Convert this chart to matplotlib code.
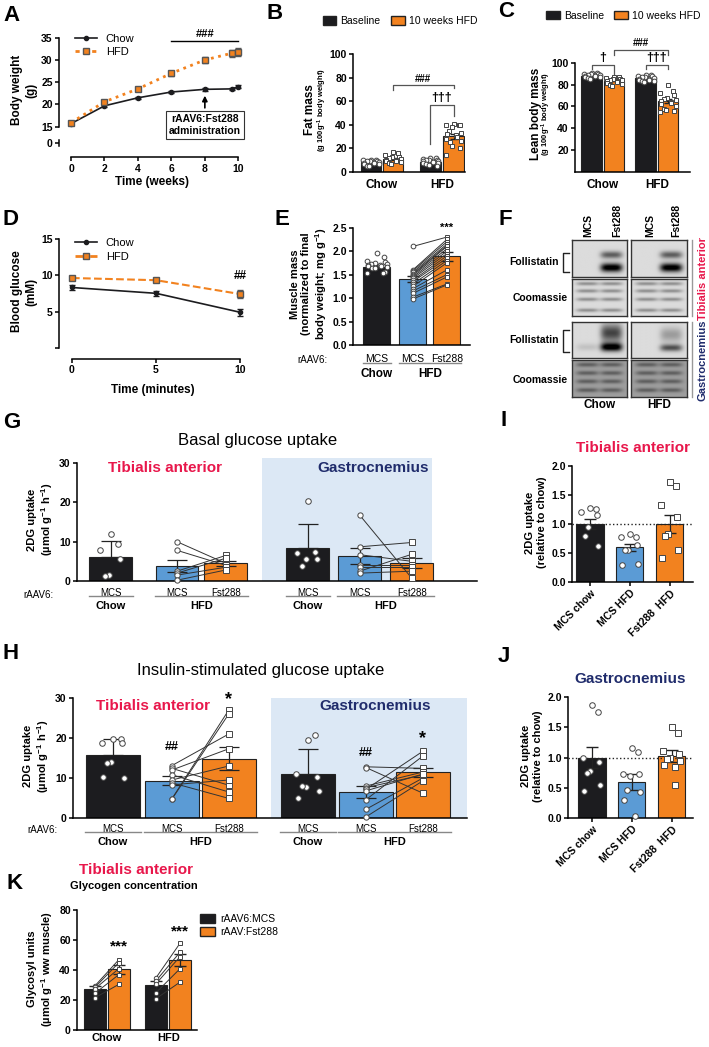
import numpy as np
import matplotlib.pyplot as plt
from matplotlib.lines import Line2D
from matplotlib.patches import Patch

plt.rcParams['font.family'] = ['Liberation Sans', 'DejaVu Sans']
plt.rcParams['font.weight'] = 'bold'
plt.rcParams['axes.labelweight'] = 'bold'
plt.rcParams['axes.titleweight'] = 'bold'
plt.rcParams['mathtext.default'] = 'regular'
plt.rcParams['axes.linewidth'] = 1.1
plt.rcParams['xtick.major.width'] = 1.1
plt.rcParams['ytick.major.width'] = 1.1
plt.rcParams['xtick.labelsize'] = 7.5
plt.rcParams['ytick.labelsize'] = 7.5

BLACK = '#1c1c1f'
ORANGE = '#f2821f'
BLUE = '#5b9bd5'
PALE = '#dce8f5'
RED = '#e8174b'
NAVY = '#202c6c'
GREY = '#444444'

# ---------------- data ----------------
# A: body weight over 10 weeks
weeks = [0, 2, 4, 6, 8, 9.6, 10]
bw_chow = [15.7, 19.7, 21.5, 22.8, 23.4, 23.5, 24.0]
bw_chow_err = [0.4, 0.3, 0.2, 0.2, 0.3, 0.2, 0.3]
bw_hfd = [15.9, 20.6, 23.5, 27.0, 30.0, 31.5, 31.8]
bw_hfd_err = [0.4, 0.5, 0.4, 0.6, 0.7, 0.8, 0.9]

# B / C: order = chow baseline, chow 10wk, HFD baseline, HFD 10wk
bc_groups = ['Chow', 'HFD']
fat_mean = [8.2, 10.8, 8.8, 30.2]
fat_sem = [0.5, 0.9, 0.5, 2.0]
fat_pts = [
    [10.5, 10, 10, 9.5, 9.5, 9, 8.5, 8, 8, 7.5, 7, 6.5, 5.5, 5],
    [17, 16, 14, 13, 12.5, 12, 11, 10.5, 10, 9.5, 9, 8.5, 8, 7],
    [12, 11.5, 11, 10.5, 10, 10, 9.5, 9, 8.5, 8.5, 8, 7.5, 7, 6, 5.5],
    [41, 40, 40, 40, 38, 35, 33, 32, 31, 30, 28, 26, 25, 22, 20, 14],
]
lean_mean = [87.5, 83.5, 86.0, 65.0]
lean_sem = [0.5, 0.7, 0.5, 1.6]
lean_pts = [
    [91, 90.5, 90, 90, 89.5, 89, 88.5, 88, 88, 87.5, 87, 86.5, 86, 85.5],
    [87, 86.5, 86, 85.5, 85, 84.5, 84, 83.5, 83, 82.5, 81.5, 80.5, 79.5, 78.5],
    [89, 88.5, 88, 87.5, 87, 86.5, 86, 85.5, 85, 84.5, 84, 83.5, 83, 82.5],
    [80, 74, 72, 70, 68, 67, 66, 65, 64, 63, 62, 60, 58, 57, 56, 55],
]

# D: blood glucose
minutes = [0, 5, 10]
bg_chow = [8.3, 7.5, 4.9]
bg_chow_err = [0.4, 0.3, 0.5]
bg_hfd = [9.6, 9.3, 7.4]
bg_hfd_err = [0.2, 0.2, 0.5]

# E: muscle mass
vec_labels = ['MCS', 'MCS', 'Fst288']
e_mean = [1.67, 1.41, 1.89]
e_sem = [0.03, 0.07, 0.09]
e_chow = [1.97, 1.88, 1.78, 1.76, 1.74, 1.73, 1.72, 1.71, 1.70, 1.69, 1.68, 1.66, 1.65, 1.64, 1.55, 1.53, 1.53]
e_mcs = [2.10, 1.60, 1.58, 1.55, 1.52, 1.50, 1.48, 1.45, 1.42, 1.38, 1.35, 1.30, 1.25, 1.20, 1.15, 1.10, 1.02, 0.98]
e_fst = [2.30, 2.25, 2.20, 2.15, 2.12, 2.10, 2.05, 2.00, 1.95, 1.90, 1.85, 1.80, 1.75, 1.60, 1.50, 1.45, 1.30, 1.28]

# G: basal 2DG uptake (TA chow, TA MCS, TA Fst, Gas chow, Gas MCS, Gas Fst)
g_mean = [6.0, 3.8, 4.5, 8.3, 6.4, 4.6]
g_err = [4.2, 1.5, 0.6, 6.1, 2.0, 1.2]
g_pts = [
    [12.0, 9.5, 8.0, 5.5, 1.6, 1.2],
    [10.0, 7.8, 2.5, 2.0, 1.5, 0.2],
    [4.5, 4.0, 6.5, 5.8, 3.5, 2.8],
    [20.3, 7.3, 7.0, 5.5, 5.5, 3.8],
    [16.8, 8.7, 6.7, 4.0, 3.5, 2.5, 2.0],
    [0.7, 9.8, 5.0, 4.0, 3.5, 6.8, 2.5],
]

# H: insulin-stimulated 2DG uptake
h_mean = [15.7, 9.3, 14.8, 11.1, 6.6, 11.4]
h_err = [4.1, 1.1, 2.9, 6.1, 1.5, 1.2]
h_pts = [
    [19.8, 19.8, 18.8, 18.8, 14.0, 13.8, 10.0, 10.2],
    [13.1, 12.4, 12.0, 10.8, 9.5, 8.8, 8.3, 4.8, 4.7],
    [21.0, 8.2, 17.3, 6.5, 13.0, 4.9, 9.5, 27.0, 26.0],
    [19.6, 20.8, 10.9, 10.2, 7.8, 7.9, 6.7, 5.0],
    [12.8, 12.6, 8.0, 7.6, 7.2, 4.6, 2.2, 0.3, 6.8],
    [12.4, 6.2, 11.5, 10.8, 16.7, 15.5, 10.0, 9.3, 11.0],
]

# I / J: uptake relative to chow
rel_labels = ['MCS chow', 'MCS HFD', 'Fst288  HFD']
i_mean = [1.0, 0.60, 1.0]
i_sem = [0.09, 0.06, 0.16]
i_pts = [
    [1.27, 1.26, 1.20, 1.15, 0.95, 0.80, 0.62],
    [0.83, 0.78, 0.77, 0.63, 0.55, 0.55, 0.31, 0.30],
    [1.73, 1.65, 1.33, 1.12, 0.83, 0.80, 0.55, 0.42],
]
j_mean = [1.0, 0.60, 1.02]
j_sem = [0.18, 0.13, 0.10]
j_pts = [
    [1.86, 1.75, 0.99, 0.92, 0.78, 0.75, 0.55, 0.45],
    [1.16, 1.09, 0.72, 0.72, 0.70, 0.47, 0.43, 0.30, 0.03],
    [1.50, 1.40, 1.10, 1.05, 1.00, 0.97, 0.95, 0.88, 0.85, 0.55],
]

# K: glycogen (chow MCS, chow Fst, HFD MCS, HFD Fst)
k_mean = [27.5, 40.5, 30.0, 47.0]
k_sem = [1.8, 3.0, 2.5, 4.0]
k_pts = [
    [29.5, 28.5, 27.5, 24.5, 21.5],
    [47, 45, 41, 37, 30.5],
    [35, 33, 31, 25, 21],
    [58, 52, 49, 41, 32],
]

# ---------------- helpers ----------------
W, H = 709, 1047
fig = plt.figure(figsize=(W / 100, H / 100), dpi=100)


def add_ax(x0, y0, x1, y1):
    return fig.add_axes([x0 / W, 1 - y1 / H, (x1 - x0) / W, (y1 - y0) / H])


def ftext(x, y, s, **kw):
    fig.text(x / W, 1 - y / H, s, **kw)


def clean(ax):
    ax.spines['top'].set_visible(False)
    ax.spines['right'].set_visible(False)
    ax.tick_params(length=3, pad=1.5)


def spread(n, w):
    return w * np.sin(np.arange(n) * 2.4)


def dots(ax, x, vals, marker='o', w=0.3, ms=3.6):
    xs = x + spread(len(vals), w)
    ax.plot(xs, vals, ls='none', marker=marker, ms=ms, mfc='white', mec=GREY,
            mew=0.7, zorder=4, clip_on=False)


def paired(ax, x1, v1, x2, v2, ms=3.4):
    for a, b in zip(v1, v2):
        ax.plot([x1, x2], [a, b], color='#333', lw=0.7, zorder=3)
    ax.plot([x1] * len(v1), v1, 'o', ms=ms, mfc='white', mec=GREY, mew=0.7, zorder=4, clip_on=False)
    ax.plot([x2] * len(v2), v2, 's', ms=ms, mfc='white', mec=GREY, mew=0.7, zorder=4, clip_on=False)


def bracket(ax, x1, x2, y, y1, y2, label, fs=8):
    ax.plot([x1, x1, x2, x2], [y1, y, y, y2], color='#555', lw=0.9, clip_on=False)
    ax.text((x1 + x2) / 2, y + 1, label, ha='center', va='bottom', fontsize=fs)


def under(ax, pos, width, y_lab, y_line, y_grp, fs=7):
    tr = ax.get_xaxis_transform()
    for i, p in enumerate(pos):
        ax.text(p, y_lab, vec_labels[i % 3], transform=tr, ha='center', va='top',
                fontsize=fs, fontweight='normal')
    for s in range(0, len(pos), 3):
        spans = [(pos[s], pos[s], 'Chow'), (pos[s + 1], pos[s + 2], 'HFD')]
        for a, b, name in spans:
            ax.plot([a - 0.52 * width, b + 0.52 * width], [y_line, y_line], transform=tr,
                    color='#888', lw=1, clip_on=False)
            ax.text((a + b) / 2, y_grp, name, transform=tr, ha='center', va='top', fontsize=fs + 1)


def letter(x, y, s):
    ftext(x, y, s, fontsize=16, fontweight='bold', ha='left', va='top')


def line_legend(ax):
    handles = [Line2D([], [], color=BLACK, marker='o', ms=3, lw=1.2),
               Line2D([], [], color=ORANGE, ls=(0, (1.5, 1.5)), lw=2, marker='s', ms=4, mfc=ORANGE, mec='#555')]
    ax.legend(handles, ['Chow', 'HFD'], loc='upper left', bbox_to_anchor=(0.03, 1.06), frameon=False,
              handlelength=2, prop={'weight': 'normal', 'size': 8}, labelspacing=0.3)


# ---------------- A ----------------
axA = add_ax(59, 31, 245, 149)
axA.errorbar(weeks, bw_chow, yerr=bw_chow_err, color=BLACK, marker='o', ms=3, lw=1.2, capsize=2)
axA.errorbar(weeks, bw_hfd, yerr=bw_hfd_err, color=ORANGE, ls=':', lw=2, marker='s', ms=4,
             mfc=ORANGE, mec='#555', ecolor='#555', capsize=2)
axA.set_xlim(-0.72, 10.4)
axA.set_ylim(10, 36.5)
axA.set_xticks([0, 2, 4, 6, 8, 10])
axA.set_yticks([11.3, 15, 20, 25, 30, 35], ['0', '15', '20', '25', '30', '35'])
clean(axA)
axA.spines['left'].set_bounds(15, 35)
axA.spines['bottom'].set_bounds(0, 10)
axA.spines['bottom'].set_position(('outward', 6))
axA.plot([0, 0], [10.6, 12.0], transform=axA.get_yaxis_transform(), color='k', lw=1.1, clip_on=False)
axA.plot([6, 10], [34.3, 34.3], color='k', lw=1)
axA.text(8, 34.6, '###', ha='center', va='bottom', fontsize=8)
axA.annotate('rAAV6:Fst288\nadministration', xy=(8, 22.6), xytext=(8, 15.4), ha='center', va='center',
             fontsize=7.5, bbox=dict(boxstyle='square,pad=0.3', fc='white', ec='#333', lw=0.8),
             arrowprops=dict(arrowstyle='-|>', color='k', lw=1.2))
axA.set_ylabel('Body weight\n(g)', fontsize=8.5, labelpad=3)
axA.set_xlabel('Time (weeks)', fontsize=8.5, labelpad=2)
line_legend(axA)
letter(3, 5, 'A')


# ---------------- B / C ----------------
def body_comp(ax, pos, means, sem, pts, ylim, xlim):
    cols = [BLACK, ORANGE, BLACK, ORANGE]
    ax.bar(pos, means, 0.95, color=cols, edgecolor='#222', lw=0.8, zorder=1)
    ax.errorbar(pos, means, yerr=sem, fmt='none', ecolor='#222', elinewidth=0.9, capsize=3, zorder=2)
    for i, p in enumerate(pos):
        dots(ax, p, pts[i], marker='o' if i % 2 == 0 else 's', w=0.36, ms=3.4)
    ax.set_xlim(xlim)
    ax.set_ylim(ylim)
    ax.set_xticks([(pos[0] + pos[1]) / 2, (pos[2] + pos[3]) / 2], bc_groups, fontsize=8.5)
    clean(ax)
    ax.tick_params(axis='x', length=0, pad=5)
    ax.spines['left'].set_bounds(0, 100)
    ax.legend([Patch(fc=BLACK, ec='#222'), Patch(fc=ORANGE, ec='#222')], ['Baseline', '10 weeks HFD'],
              loc='lower center', bbox_to_anchor=(0.42, 1.1), ncol=2, frameon=False,
              handlelength=1.3, handleheight=0.9, columnspacing=1.0, handletextpad=0.4,
              prop={'weight': 'normal', 'size': 7.5})


axB = add_ax(353, 48, 465, 172)
posB = [0, 1, 2.7, 3.75]
body_comp(axB, posB, fat_mean, fat_sem, fat_pts, (0, 105), (-0.82, 4.27))
axB.set_yticks([0, 20, 40, 60, 80, 100])
bracket(axB, posB[1], posB[3], 73.5, 69.5, 71, '###', fs=7)
bracket(axB, posB[2], posB[3], 57, 24, 47, '†††', fs=9)
axB.text(-0.38, 0.5, 'Fat mass', rotation=90, transform=axB.transAxes, ha='center', va='center', fontsize=8.5)
axB.text(-0.27, 0.5, '(g 100g$^{-1}$ body weight)', rotation=90, transform=axB.transAxes,
         ha='center', va='center', fontsize=5.5)
letter(266, 3, 'B')

axC = add_ax(575, 43, 690, 172)
posC = [0, 1, 2.45, 3.45]
body_comp(axC, posC, lean_mean, lean_sem, lean_pts, (0, 118), (-0.77, 4.45))
axC.set_yticks([20, 40, 60, 80, 100])
bracket(axC, posC[0], posC[1], 98, 94, 90, '†', fs=9)
bracket(axC, posC[1], posC[3], 112, 107, 107, '###', fs=7)
bracket(axC, posC[2], posC[3], 98, 94, 94, '†††', fs=9)
axC.text(-0.34, 0.45, 'Lean body mass', rotation=90, transform=axC.transAxes, ha='center', va='center', fontsize=8.5)
axC.text(-0.245, 0.45, '(g 100g$^{-1}$ body weight)', rotation=90, transform=axC.transAxes,
         ha='center', va='center', fontsize=5.5)
letter(498, 1, 'C')

# ---------------- D ----------------
axD = add_ax(59, 235, 246, 348)
axD.errorbar(minutes, bg_chow, yerr=bg_chow_err, color=BLACK, marker='o', ms=3, lw=1.2, capsize=2)
axD.errorbar(minutes, bg_hfd, yerr=bg_hfd_err, color=ORANGE, ls='--', lw=1.5, marker='s', ms=4,
             mfc=ORANGE, mec='#555', ecolor='#555', capsize=2)
axD.set_xlim(-0.77, 10.35)
axD.set_ylim(0, 15.5)
axD.set_xticks([0, 5, 10])
axD.set_yticks([0, 5, 10, 15], ['', '5', '10', '15'])
clean(axD)
axD.spines['left'].set_bounds(0, 15)
axD.spines['bottom'].set_bounds(0, 10)
axD.spines['bottom'].set_position(('outward', 8))
axD.text(10, 9.0, '##', ha='center', va='bottom', fontsize=8.5)
axD.set_ylabel('Blood glucose\n(mM)', fontsize=8.5, labelpad=3)
axD.set_xlabel('Time (minutes)', fontsize=8.5, labelpad=6)
line_legend(axD)
axD.get_legend().get_lines()[1].set_linestyle('--')
letter(3, 209, 'D')

# ---------------- E ----------------
axE = add_ax(353, 223, 470, 345)
posE = [0, 1.06, 2.06]
axE.bar(posE, e_mean, 0.8, color=[BLACK, BLUE, ORANGE], edgecolor='#222', lw=0.8, zorder=1)
axE.errorbar(posE, e_mean, yerr=e_sem, fmt='none', ecolor='#222', elinewidth=0.9, capsize=4, zorder=2)
dots(axE, posE[0], e_chow, w=0.3, ms=3.4)
paired(axE, posE[1], e_mcs, posE[2], e_fst)
axE.text(posE[2], 2.38, '***', ha='center', va='bottom', fontsize=8)
axE.set_xlim(-0.7, 2.74)
axE.set_ylim(0, 2.6)
axE.set_yticks([0, 0.5, 1.0, 1.5, 2.0, 2.5], ['0.0', '0.5', '1.0', '1.5', '2.0', '2.5'])
axE.set_xticks([])
clean(axE)
axE.spines['left'].set_bounds(0, 2.5)
axE.set_ylabel('Muscle mass\n(normalized to final\nbody weight; mg g$^{-1}$)', fontsize=8, labelpad=2)
axE.text(-0.22, -0.08, 'rAAV6:', transform=axE.transAxes, ha='right', va='top', fontsize=7, fontweight='normal')
under(axE, posE, 0.8, -0.075, -0.15, -0.185, fs=7.5)
letter(274, 209, 'E')


# ---------------- F (western blots) ----------------
def blot(box, bands, bg):
    ax = add_ax(*box)
    yy = np.linspace(0, 1, 60)[:, None]
    xx = np.linspace(0, 1, 100)[None, :]
    img = np.full((60, 100), bg)
    for lane, yc, h, s in bands:
        img = img - s * np.exp(-((yy - yc) / h) ** 2) * np.exp(-((xx - lane) / 0.2) ** 4)
    ax.imshow(np.clip(img, 0, 1), cmap='gray', vmin=0, vmax=1, aspect='auto')
    ax.set_xticks([])
    ax.set_yticks([])
    for s in ax.spines.values():
        s.set_color('#333')
        s.set_linewidth(1)


coom = [(ln, yc, 0.05, 0.3) for ln in (0.28, 0.72) for yc in (0.12, 0.32, 0.55, 0.85)]
blot((572, 240, 627, 277), [(0.72, 0.4, 0.1, 0.5), (0.72, 0.75, 0.12, 0.95)], 0.86)
blot((631, 240, 687, 277), [(0.72, 0.4, 0.1, 0.5), (0.72, 0.75, 0.12, 0.95)], 0.86)
blot((572, 279, 627, 316), coom, 0.86)
blot((631, 279, 687, 316), coom, 0.86)
blot((572, 322, 627, 358), [(0.72, 0.3, 0.25, 0.6), (0.72, 0.7, 0.12, 0.95), (0.28, 0.7, 0.1, 0.1)], 0.86)
blot((631, 322, 687, 358), [(0.72, 0.35, 0.2, 0.25), (0.72, 0.72, 0.1, 0.55)], 0.86)
coom_g = [(ln, yc, 0.06, 0.25) for ln in (0.28, 0.72) for yc in (0.12, 0.35, 0.58, 0.82)]
blot((572, 360, 627, 397), coom_g, 0.62)
blot((631, 360, 687, 397), coom_g, 0.62)

for x, s in [(588, 'MCS'), (617, 'Fst288'), (650, 'MCS'), (676, 'Fst288')]:
    ftext(x, 237, s, rotation=90, ha='center', va='bottom', fontsize=7.5)
for y, s in [(262, 'Follistatin'), (298, 'Coomassie'), (340, 'Follistatin'), (380, 'Coomassie')]:
    ftext(559 if s == 'Follistatin' else 568, y, s, ha='right', va='center', fontsize=7.5)
for y0, y1 in [(253, 272), (330, 352)]:
    fig.add_artist(Line2D([569 / W, 563 / W, 563 / W, 569 / W], [1 - y0 / H, 1 - y0 / H, 1 - y1 / H, 1 - y1 / H],
                          color='#222', lw=1))
fig.add_artist(Line2D([692 / W, 692 / W], [1 - 240 / H, 1 - 316 / H], color='#999', lw=1))
fig.add_artist(Line2D([692 / W, 692 / W], [1 - 322 / H, 1 - 397 / H], color='#999', lw=1))
ftext(703, 278, 'Tibialis anterior', rotation=90, ha='center', va='center', fontsize=8, color=RED)
ftext(703, 360, 'Gastrocnemius', rotation=90, ha='center', va='center', fontsize=8, color=NAVY)
ftext(600, 405, 'Chow', ha='center', va='center', fontsize=8.5)
ftext(659, 405, 'HFD', ha='center', va='center', fontsize=8.5)
letter(498, 209, 'F')


# ---------------- G / H ----------------
def uptake_panel(ax, pos, width, means, err, pts, xlim, bg_from, ymax, bg_top):
    ax.axvspan(bg_from, xlim[1], ymax=bg_top / ymax, color=PALE, zorder=0, lw=0)
    ax.bar(pos, means, width, color=[BLACK, BLUE, ORANGE] * 2, edgecolor='#222', lw=0.8, zorder=1)
    dn = [0 if i % 3 == 0 else e for i, e in enumerate(err)]
    ax.errorbar(pos, means, yerr=[dn, err], fmt='none', ecolor='#222', elinewidth=0.9,
                capsize=7, capthick=0.9, zorder=2)
    for k in (0, 3):
        dots(ax, pos[k], pts[k], w=0.22, ms=4)
        paired(ax, pos[k + 1], pts[k + 1], pos[k + 2], pts[k + 2], ms=3.8)
    ax.set_xlim(xlim)
    ax.set_ylim(0, ymax)
    ax.set_yticks([0, 10, 20, 30])
    ax.set_xticks([])
    clean(ax)
    ax.spines['left'].set_bounds(0, 30)
    ax.set_ylabel('2DG uptake\n(µmol g$^{-1}$ h$^{-1}$)', fontsize=8, labelpad=3)


axG = add_ax(77, 458, 477, 581)
posG = [0, 1.33, 2.31, 3.96, 5.0, 6.05]
uptake_panel(axG, posG, 0.86, g_mean, g_err, g_pts, (-0.68, 7.36), 3.04, 31.3, 31.3)
axG.axvspan(6.45, 7.36, color='white', zorder=0, lw=0)
axG.text(-0.06, -0.075, 'rAAV6:', transform=axG.transAxes, ha='right', va='top', fontsize=7, fontweight='normal')
under(axG, posG, 0.86, -0.06, -0.125, -0.16)
ftext(258, 440, 'Basal glucose uptake', ha='center', va='center', fontsize=12, fontweight='normal')
ftext(165, 468, 'Tibialis anterior', ha='center', va='center', fontsize=11, color=RED)
ftext(373, 468, 'Gastrocnemius', ha='center', va='center', fontsize=11, color=NAVY)
letter(3, 412, 'G')

axH = add_ax(73, 694, 467, 818)
posH = [0, 1.15, 2.26, 3.8, 4.94, 6.05]
uptake_panel(axH, posH, 1.05, h_mean, h_err, h_pts, (-0.78, 6.91), 3.09, 31, 30)
axH.text(posH[1], 17.7, '##', ha='center', va='center', fontsize=9)
axH.text(posH[2], 29.5, '*', ha='center', va='center', fontsize=13)
axH.text(posH[4], 16.2, '##', ha='center', va='center', fontsize=9)
axH.text(posH[5], 19.8, '*', ha='center', va='center', fontsize=13)
axH.text(-0.04, -0.06, 'rAAV6:', transform=axH.transAxes, ha='right', va='top', fontsize=7, fontweight='normal')
under(axH, posH, 1.05, -0.045, -0.11, -0.15)
ftext(261, 670, 'Insulin-stimulated glucose uptake', ha='center', va='center', fontsize=12, fontweight='normal')
ftext(153, 706, 'Tibialis anterior', ha='center', va='center', fontsize=11, color=RED)
ftext(375, 706, 'Gastrocnemius', ha='center', va='center', fontsize=11, color=NAVY)
letter(3, 643, 'H')


# ---------------- I / J ----------------
def rel_panel(ax, means, sem, pts, xlim, title, tcolor):
    pos = [0, 1, 2]
    ax.bar(pos, means, 0.68, color=[BLACK, BLUE, ORANGE], edgecolor='#222', lw=0.8, zorder=1)
    ax.errorbar(pos, means, yerr=sem, fmt='none', ecolor='#222', elinewidth=0.9, capsize=4, zorder=2)
    ax.axhline(1.0, ls=':', color='#222', lw=1, zorder=3)
    dots(ax, pos[0], pts[0], w=0.22, ms=4)
    dots(ax, pos[1], pts[1], w=0.22, ms=4)
    dots(ax, pos[2], pts[2], marker='s', w=0.22, ms=4)
    ax.set_xlim(xlim)
    ax.set_ylim(0, 2.05)
    ax.set_yticks([0, 0.5, 1.0, 1.5, 2.0], ['0.0', '0.5', '1.0', '1.5', '2.0'])
    ax.set_xticks(pos, rel_labels, rotation=45, ha='right', rotation_mode='anchor', fontsize=7.5)
    clean(ax)
    ax.spines['left'].set_bounds(0, 2.0)
    ax.set_ylabel('2DG uptake\n(relative to chow)', fontsize=8, labelpad=3)
    ax.set_title(title, color=tcolor, fontsize=11, pad=8, fontweight='bold')


axI = add_ax(572, 463, 693, 582)
rel_panel(axI, i_mean, i_sem, i_pts, (-0.45, 2.58), 'Tibialis anterior', RED)
letter(500, 410, 'I')

axJ = add_ax(568, 694, 693, 818)
rel_panel(axJ, j_mean, j_sem, j_pts, (-0.6, 2.53), 'Gastrocnemius', NAVY)
letter(498, 646, 'J')

# ---------------- K ----------------
axK = add_ax(77, 907, 197, 1030)
posK = [0, 1, 2.55, 3.55]
axK.bar(posK, k_mean, 0.92, color=[BLACK, ORANGE, BLACK, ORANGE], edgecolor='#222', lw=0.8, zorder=1)
axK.errorbar(posK, k_mean, yerr=k_sem, fmt='none', ecolor='#222', elinewidth=0.9, capsize=4, zorder=2)
paired(axK, posK[0], k_pts[0], posK[1], k_pts[1], ms=3.2)
paired(axK, posK[2], k_pts[2], posK[3], k_pts[3], ms=3.2)
axK.text(posK[1], 56, '***', ha='center', va='center', fontsize=11)
axK.text(posK[3], 66, '***', ha='center', va='center', fontsize=11)
axK.set_xlim(-0.75, 4.25)
axK.set_ylim(0, 82)
axK.set_yticks([0, 20, 40, 60, 80])
axK.set_xticks([(posK[0] + posK[1]) / 2, (posK[2] + posK[3]) / 2], bc_groups, fontsize=8)
clean(axK)
axK.tick_params(axis='x', length=0, pad=2)
axK.spines['left'].set_bounds(0, 80)
axK.set_ylabel('Glycosyl units\n(µmol g$^{-1}$ ww muscle)', fontsize=8, labelpad=3)
axK.legend([Patch(fc=BLACK, ec='#222'), Patch(fc=ORANGE, ec='#222')], ['rAAV6:MCS', 'rAAV:Fst288'],
           loc='upper left', bbox_to_anchor=(0.95, 1.02), frameon=False, handlelength=1.4,
           handleheight=0.9, handletextpad=0.5, labelspacing=0.3, prop={'weight': 'normal', 'size': 7.5})
ftext(136, 870, 'Tibialis anterior', ha='center', va='center', fontsize=11, color=RED)
ftext(134, 886, 'Glycogen concentration', ha='center', va='center', fontsize=8)
letter(6, 873, 'K')

fig.savefig('out.png', dpi=100)
